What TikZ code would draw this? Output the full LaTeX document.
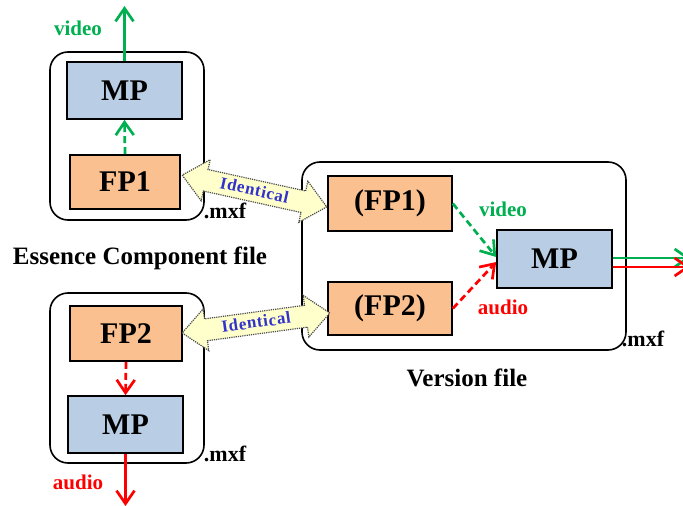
\documentclass[tikz,border=0pt]{standalone}
\usepackage{fontspec}
\setmainfont{Liberation Serif}
\usetikzlibrary{arrows.meta}
\definecolor{vgreen}{HTML}{00B050}
\definecolor{ared}{HTML}{FF0000}
\definecolor{fporange}{HTML}{FAC08F}
\definecolor{mpblue}{HTML}{B9CDE5}
\definecolor{idfill}{HTML}{FFFFCC}
\definecolor{idtext}{HTML}{3333CC}
\tikzset{
  container/.style={draw=black, line width=1.6pt, rounded corners=18pt},
  fpbox/.style={draw=black, line width=1.6pt, fill=fporange, inner sep=0pt,
    font=\fontsize{30}{30}\selectfont\bfseries},
  mpbox/.style={draw=black, line width=1.6pt, fill=mpblue, inner sep=0pt,
    font=\fontsize{30}{30}\selectfont\bfseries},
  flow/.style={line width=2.7pt, -{Straight Barb[length=13pt,width=18pt,line width=2.7pt]}},
  dflow/.style={flow, dash pattern=on 7pt off 4pt},
  lbl/.style={inner sep=0pt, font=\fontsize{21}{21}\selectfont\bfseries},
  filelbl/.style={inner sep=0pt, font=\fontsize{25}{25}\selectfont\bfseries},
  mxf/.style={inner sep=0pt, font=\fontsize{22}{22}\selectfont\bfseries},
  samebody/.style={draw=black!70, densely dotted, line width=1.2pt, fill=idfill},
  sametext/.style={inner sep=0pt, text=idtext,
    font=\fontsize{17}{17}\selectfont\bfseries\addfontfeature{LetterSpace=4}},
  % double-headed block arrow of length #1, centred on the local origin
  pics/blockarrow/.style={code={
    \path[samebody] (-#1/2,0) -- (-#1/2+24,21) -- (-#1/2+24,11) -- (#1/2-24,11)
      -- (#1/2-24,21) -- (#1/2,0) -- (#1/2-24,-21) -- (#1/2-24,-11)
      -- (-#1/2+24,-11) -- (-#1/2+24,-21) -- cycle;
  }},
}
\begin{document}
\begin{tikzpicture}[x=1pt,y=-1pt]
\useasboundingbox (0,0) rectangle (683,506);

% file containers
\draw[container] (50,52) rectangle (204,220);
\draw[container] (50,293) rectangle (204,463);
\draw[container] (302,162) rectangle (626,350);

% essence component file (video)
\node[mpbox, minimum width=115pt, minimum height=57pt] (mpA) at (124.5,90.5) {MP};
\node[fpbox, minimum width=110pt, minimum height=54pt] (fpA) at (125,182) {FP1};
\coordinate (outA) at (124.5,6);
\draw[flow, vgreen] (mpA.north) -- (outA);
\draw[dflow, vgreen] (fpA.north) -- (mpA.south);
\node[lbl, text=vgreen] (vidA) at (78,28) {video};
\node[mxf] (mxfA) at (225,211) {.mxf};
\node[filelbl] (ecf) at (140,258) {Essence Component file};

% essence component file (audio)
\node[fpbox, minimum width=112pt, minimum height=55pt] (fpB) at (126,333.5) {FP2};
\node[mpbox, minimum width=115pt, minimum height=57pt] (mpB) at (125.5,424.5) {MP};
\coordinate (outB) at (125.5,506);
\draw[dflow, ared] (fpB.south) -- (mpB.north);
\draw[flow, ared] (mpB.south) -- (outB);
\node[lbl, text=ared] (audB) at (78,482) {audio};
\node[mxf] (mxfB) at (225,454) {.mxf};

% version file
\node[fpbox, minimum width=124pt, minimum height=55pt] (vfp1) at (390,203.5) {(FP1)};
\node[fpbox, minimum width=124pt, minimum height=53pt] (vfp2) at (390,308.5) {(FP2)};
\node[mpbox, minimum width=115pt, minimum height=58pt] (vmp) at (554.5,259) {MP};
\draw[dflow, vgreen] (vfp1.east) -- ([yshift=2pt]vmp.west);
\draw[dflow, ared] (vfp2.east) -- ([yshift=-3pt]vmp.west);
\coordinate (outG) at (690,258);
\coordinate (outR) at (690,267);
\draw[flow, vgreen] ([yshift=1pt]vmp.east) -- (outG);
\draw[flow, ared] ([yshift=-8pt]vmp.east) -- (outR);
\node[lbl, text=vgreen] (vidV) at (503,209) {video};
\node[lbl, text=ared] (audV) at (503,307) {audio};
\node[mxf] (mxfV) at (643,339) {.mxf};
\node[filelbl] (vf) at (467,378) {Version file};

% identical-partition markers
\pic[shift={(254.5,191)}, rotate=-12.4] {blockarrow=148};
\node[sametext, rotate=-12.4] (idA) at (254.5,190) {Identical};
\pic[shift={(256,323)}, rotate=7.7] {blockarrow=149};
\node[sametext, rotate=7.7] (idB) at (256,322) {Identical};
\end{tikzpicture}
\end{document}
